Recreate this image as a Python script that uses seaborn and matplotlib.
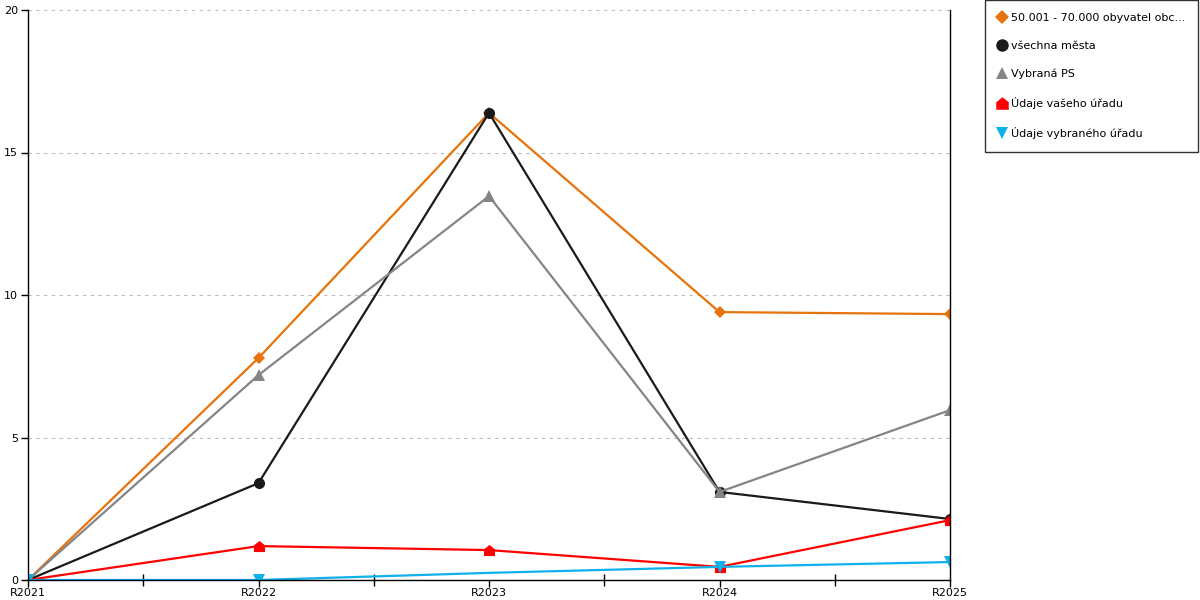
import pandas as pd
import seaborn as sns
import matplotlib.pyplot as plt
from matplotlib.lines import Line2D
from matplotlib.path import Path
from matplotlib.ticker import MultipleLocator

# data
years = ["R2021", "R2022", "R2023", "R2024", "R2025"]
obce_50_70 = [0.0, 7.79, 16.39, 9.40, 9.33]
vsechna_mesta = [0.0, 3.40, 16.39, 3.09, 2.14]
vybrana_ps = [0.0, 7.19, 13.47, 3.09, 5.96]
vas_urad = [0.0, 1.19, 1.05, 0.46, 2.10]
vybrany_urad = [0.0, 0.0, 0.25, 0.46, 0.63]

labels = ["50.001 - 70.000 obyvatel obc...", "všechna města", "Vybraná PS",
          "Údaje vašeho úřadu", "Údaje vybraného úřadu"]
series = [obce_50_70, vsechna_mesta, vybrana_ps, vas_urad, vybrany_urad]

# house shaped marker for the red series
house = Path([(-1, -1), (1, -1), (1, 0.2), (0, 1), (-1, 0.2), (-1, -1)],
             [Path.MOVETO, Path.LINETO, Path.LINETO, Path.LINETO, Path.LINETO, Path.CLOSEPOLY])

colors = ["#E8720C", "#1A1A1A", "#858585", "#FF0000", "#0FB0EC"]
markers = ["D", "o", "^", house, "v"]
msizes = [6, 8, 8, 8, 8]
markevery = [None, None, None, None, [0, 1, 3, 4]]

sns.set_theme(style="white")
plt.rcParams['font.family'] = ['DejaVu Sans']
plt.rcParams['text.color'] = 'black'
plt.rcParams['xtick.color'] = 'black'
plt.rcParams['ytick.color'] = 'black'

fig = plt.figure(figsize=(12, 6), dpi=100)
ax = fig.add_axes([28 / 1200, 20 / 600, 922 / 1200, 570 / 600])

x = list(range(len(years)))
for vals, lab, c, m, ms, me in zip(series, labels, colors, markers, msizes, markevery):
    df = pd.DataFrame({"x": x, "y": vals})
    sns.lineplot(data=df, x="x", y="y", ax=ax, color=c, marker=m, markersize=ms,
                 markeredgewidth=0, linewidth=1.6, markevery=me, label=lab, legend=False)

ax.set_xlim(0, 4)
ax.set_ylim(0, 20)
ax.set_xticks(x)
ax.set_xticklabels(years)
ax.xaxis.set_minor_locator(MultipleLocator(0.5))
ax.set_yticks([0, 5, 10, 15, 20])
ax.set_xlabel("")
ax.set_ylabel("")

ax.yaxis.grid(True, linestyle=(0, (3, 4)), color="#BBBBBB", linewidth=0.8)
ax.xaxis.grid(False)
ax.set_axisbelow(True)

for side in ["left", "right", "bottom"]:
    ax.spines[side].set_visible(True)
    ax.spines[side].set_color("black")
    ax.spines[side].set_linewidth(1)
ax.spines["top"].set_visible(False)

ax.tick_params(axis="x", which="major", direction="out", length=5, width=1,
               color="black", labelsize=8, pad=1, bottom=True, labelcolor="black")
ax.tick_params(axis="x", which="minor", direction="inout", length=9, width=1,
               color="black", bottom=True)
ax.tick_params(axis="y", direction="out", length=5, width=1, color="black",
               labelsize=8, pad=2, left=True, labelcolor="black")

handles = [Line2D([], [], linestyle="none", marker=m, color=c, markersize=ms + 1,
                  markeredgewidth=0)
           for c, m, ms in zip(colors, markers, msizes)]
leg = fig.legend(handles, labels, loc="upper left", bbox_to_anchor=(985 / 1200, 1.0),
                 frameon=True, fancybox=False, edgecolor="black", fontsize=8,
                 labelspacing=1.62, handlelength=0.8, handletextpad=0.4,
                 borderpad=1.15, borderaxespad=0)
leg.get_frame().set_linewidth(1)
for t in leg.get_texts():
    t.set_color("black")

fig.savefig("out.png", dpi=100)
